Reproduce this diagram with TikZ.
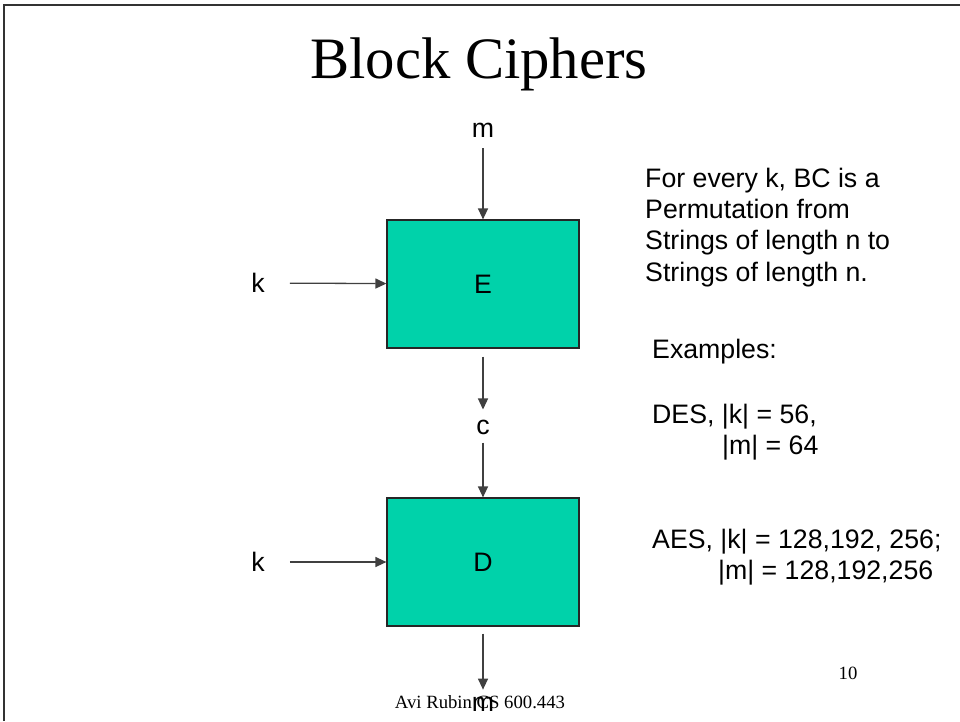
\documentclass[tikz,border=0pt]{standalone}
\usepackage{fontspec}
\setmainfont{Liberation Serif}
\setsansfont{Liberation Sans}
\usetikzlibrary{arrows.meta}
\definecolor{boxgreen}{RGB}{0,210,170}
\begin{document}
\begin{tikzpicture}[x=1pt, y=-1pt, >={Triangle[length=11pt,width=10pt]},
  lbl/.style={font=\sffamily\fontsize{26.7}{31}\selectfont, inner sep=0pt},
  txt/.style={lbl, anchor=base west},
  box/.style={draw=black!85, fill=boxgreen, line width=1.2pt,
    minimum width=192pt, minimum height=128pt, inner sep=0pt, font=\sffamily\fontsize{26.7}{31}\selectfont},
  wire/.style={->, line width=1.3pt, black!75}]
  \useasboundingbox (0,0) rectangle (960,721);
  \draw[line width=2pt, black!80] (4,721) -- (4,5) -- (960,5);

  \node[font=\fontsize{58.7}{60}\selectfont, anchor=base] (title) at (479,78) {Block Ciphers};

  % encryption
  \node[box] (E) at (483,284) {E};
  \node[lbl] (m) at (483,130) {m};
  \node[lbl] (k1) at (258,283) {k};
  \draw[wire, shorten <=11pt] (m) -- (E);
  \draw[wire, shorten <=25pt] (k1) -- (E);

  \node[lbl] (c) at (483,427) {c};
  \draw[wire, shorten <=8pt, shorten >=10pt] (E) -- (c);

  % decryption
  \node[box] (D) at (483,562) {D};
  \node[lbl] (k2) at (258,562) {k};
  \draw[wire, shorten <=8pt] (c) -- (D);
  \draw[wire, shorten <=25pt] (k2) -- (D);

  \node[lbl] (mout) at (483,704) {m};
  \draw[wire, shorten <=7pt, shorten >=7pt] (D) -- (mout);

  % right hand notes
  \node[txt] (n1) at (645,187) {For every k, BC is a};
  \node[txt] (n2) at (645,218) {Permutation from};
  \node[txt] (n3) at (645,249.5) {Strings of length n to};
  \node[txt] (n4) at (645,281) {Strings of length n.};
  \node[txt] (ex) at (652,358) {Examples:};
  \node[txt] (des1) at (652,423) {DES, |k| = 56,};
  \node[txt] (des2) at (722,454) {|m| = 64};
  \node[txt] (aes1) at (652,548) {AES, |k| = 128,192, 256;};
  \node[txt] (aes2) at (718,579) {|m| = 128,192,256};

  % footer
  \node[font=\fontsize{18.7}{20}\selectfont, anchor=base] (foot) at (480,708) {Avi Rubin CS 600.443};
  \node[font=\fontsize{18.7}{20}\selectfont, anchor=base] (page) at (848,679) {10};
\end{tikzpicture}
\end{document}
